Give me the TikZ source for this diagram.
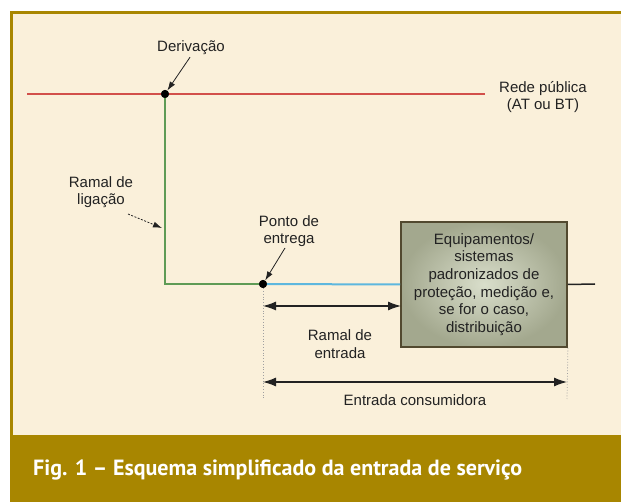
\documentclass[tikz,border=0pt]{standalone}
\usepackage{fontspec}
\setmainfont{Liberation Sans}
\newfontfamily\capfont{PT Sans}
\usetikzlibrary{arrows.meta}
\definecolor{beige}{HTML}{FAF0DA}
\definecolor{gold}{HTML}{A88600}
\definecolor{boxin}{HTML}{D9DECB}
\definecolor{boxout}{HTML}{A3A88E}
\definecolor{boxline}{HTML}{52492F}
\definecolor{txt}{HTML}{222222}
\definecolor{redline}{HTML}{D2504A}
\definecolor{greenline}{HTML}{5E9B55}
\definecolor{blueline}{HTML}{5DB7DE}
\definecolor{dotgray}{HTML}{A0A0A0}
\tikzset{
  lbl/.style={text=txt, align=center, font=\fontsize{15}{17.6}\selectfont, inner sep=0pt},
  junction/.style={circle, fill=black, inner sep=0pt, minimum size=8pt},
  ptr/.style={draw=txt, line width=0.8pt, -{Latex[length=9pt,width=6pt]}},
  dim/.style={draw=txt, line width=1.2pt, {Latex[length=13pt,width=9pt]}-{Latex[length=13pt,width=9pt]}},
  guide/.style={draw=dotgray, line width=0.8pt, dotted},
  equipbox/.style={draw=boxline, line width=1.8pt, shading=radial, inner color=boxin, outer color=boxout,
    minimum width=166pt, minimum height=125pt, text=txt, align=center,
    font=\fontsize{15}{17.6}\selectfont, inner sep=0pt}
}
\begin{document}
\begin{tikzpicture}[x=1pt,y=-1pt]
\useasboundingbox (0,0) rectangle (621,502);
\fill[white] (0,0) rectangle (621,502);
\fill[gold] (10,11) rectangle (621,502);
\fill[beige] (13,14) rectangle (621,435);

% nodes
\node[junction] (der) at (165,94) {};
\node[junction] (pe) at (263,284) {};
\coordinate (rl) at (27,94);
\coordinate (rr) at (485,94);
\node[equipbox] (box) at (484,284.5) {Equipamentos/\\sistemas\\padronizados de\\proteção, medição e,\\se for o caso,\\distribuição};
\coordinate (outend) at (595,284);

\node[lbl] (derlab) at (191,48) {Derivação};
\node[lbl] (redelab) at (543,97) {Rede pública\\(AT ou BT)};
\node[lbl] (liglab) at (101,192) {Ramal de\\ligação};
\node[lbl] (pelab) at (289,231) {Ponto de\\entrega};
\node[lbl] (relab) at (340,344) {Ramal de\\entrada};
\node[lbl] (eclab) at (415,400) {Entrada consumidora};

% lines
\draw[redline, line width=1.5pt] (rl) -- (rr);
\draw[greenline, line width=2pt] (der.center) |- (pe.center);
\draw[blueline, line width=2pt] (pe.center) -- (box.west);
\draw[txt, line width=1.5pt] (box.east) -- (outend);
\node[junction] at (der) {};
\node[junction] at (pe) {};

% guides
\coordinate (g1) at (263,399);
\coordinate (g2) at (567,399);
\draw[guide] (pe.south) -- (g1);
\draw[guide] (box.south east) -- (g2);

% dimension arrows
\coordinate (d1a) at (263,306);
\coordinate (d1b) at (401,306);
\draw[dim] (d1a) -- (d1b);
\coordinate (d2a) at (263,382);
\coordinate (d2b) at (567,382);
\draw[dim] (d2a) -- (d2b);

% pointers
\draw[ptr] ([xshift=-1pt,yshift=-2pt]derlab.south) -- (der);
\draw[ptr] ([xshift=-4pt,yshift=-1pt]pelab.south) -- (pe);
\coordinate (lig1) at (128,214);
\coordinate (lig2) at (162,228);
\draw[ptr, dashed, dash pattern=on 2pt off 1.5pt] (lig1) -- (lig2);

% caption
\node[anchor=base west, text=white, inner sep=0pt, font=\capfont\bfseries\fontsize{22}{26}\selectfont] (cap) at (33,475) {Fig. 1 – Esquema simplificado da entrada de serviço};
\end{tikzpicture}
\end{document}
